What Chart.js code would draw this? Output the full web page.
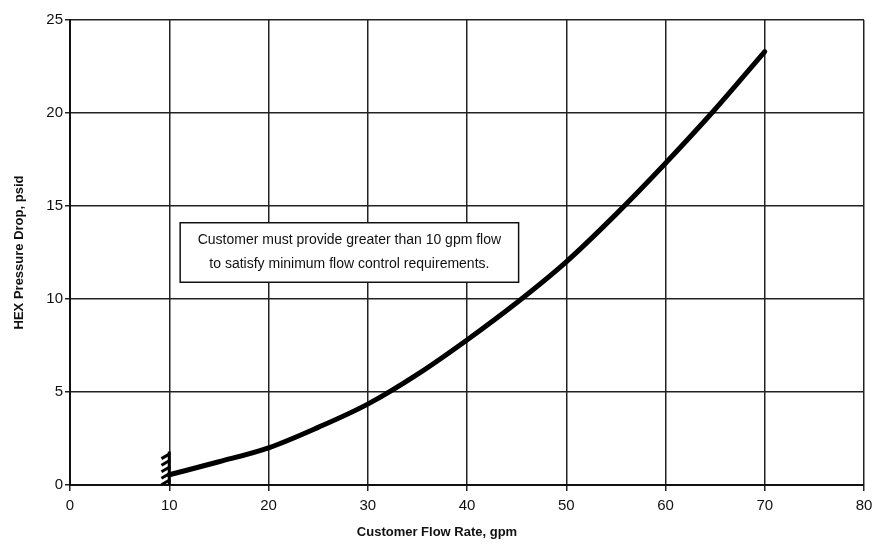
<!DOCTYPE html>
<html>
<head>
<meta charset="utf-8">
<script src="https://cdn.jsdelivr.net/npm/chart.js@4.4.1/dist/chart.umd.min.js"></script>
<style>
  html, body { margin: 0; padding: 0; background: #fff; }
  #wrap { width: 875px; height: 548px; }
</style>
</head>
<body>
<div id="wrap"><canvas id="flowChart"></canvas></div>
<script>
// values
const flowRate = [10, 15, 20, 25, 30, 35, 40, 45, 50, 55, 60, 65, 70];
const pressureDrop = [0.55, 1.25, 2.0, 3.1, 4.35, 5.95, 7.8, 9.8, 12.0, 14.55, 17.3, 20.2, 23.3];

// hatch marks at the 10 gpm minimum
const hatchX = [9.65, 9.65, 9.65, 9.65, 9.65];
const hatchY = [0.15, 0.5, 0.85, 1.2, 1.55];
const minFlowX = [10, 10];
const minFlowY = [0, 1.8];

const xTitle = "Customer Flow Rate, gpm";
const yTitle = "HEX Pressure Drop, psid";
const noteLines = [
    "Customer must provide greater than 10 gpm flow",
    "to satisfy minimum flow control requirements."
];
// note box corners in data units
const noteX = [11.1, 45.2];
const noteY = [14.1, 10.9];

const FONT = "'Liberation Sans', Arial, sans-serif";

const toPoints = (xs, ys) => xs.map((x, i) => ({ x, y: ys[i] }));

const notePlugin = {
    id: "noteBox",
    afterDatasetsDraw(chart) {
        const { ctx, scales } = chart;
        const x1 = scales.x.getPixelForValue(noteX[0]);
        const x2 = scales.x.getPixelForValue(noteX[1]);
        const y1 = scales.y.getPixelForValue(noteY[0]);
        const y2 = scales.y.getPixelForValue(noteY[1]);

        ctx.save();
        ctx.fillStyle = "#fff";
        ctx.fillRect(x1, y1, x2 - x1, y2 - y1);
        ctx.strokeStyle = "#111";
        ctx.lineWidth = 1.5;
        ctx.strokeRect(x1, y1, x2 - x1, y2 - y1);

        ctx.fillStyle = "#111";
        ctx.font = "14px " + FONT;
        ctx.textAlign = "center";
        ctx.textBaseline = "middle";
        const cx = (x1 + x2) / 2;
        const cy = (y1 + y2) / 2;
        ctx.fillText(noteLines[0], cx, cy - 12);
        ctx.fillText(noteLines[1], cx, cy + 12);

        // x axis title, sits left of centre in the original
        ctx.font = "bold 13px " + FONT;
        ctx.fillText(xTitle, 437, 532);
        ctx.restore();
    }
};

new Chart(document.getElementById("flowChart"), {
    type: "scatter",
    data: {
        datasets: [
            {
                data: toPoints(flowRate, pressureDrop),
                showLine: true,
                borderColor: "#000",
                borderWidth: 5,
                pointRadius: 0,
                cubicInterpolationMode: "monotone",
                borderCapStyle: "round"
            },
            {
                data: toPoints(minFlowX, minFlowY),
                showLine: true,
                borderColor: "#000",
                borderWidth: 3,
                pointRadius: 0
            },
            {
                data: toPoints(hatchX, hatchY),
                showLine: false,
                pointStyle: "line",
                rotation: -30,
                pointRadius: 5,
                borderColor: "#000",
                borderWidth: 3
            }
        ]
    },
    options: {
        responsive: true,
        maintainAspectRatio: false,
        animation: false,
        layout: {
            padding: { top: 20, right: 11, left: 0, bottom: 0 }
        },
        plugins: {
            legend: { display: false },
            tooltip: { enabled: false }
        },
        scales: {
            x: {
                type: "linear",
                min: 0,
                max: 80,
                afterFit: scale => {
                    scale.height = 63;
                    scale.paddingLeft = 0;
                    scale.paddingRight = 0;
                },
                ticks: {
                    stepSize: 10,
                    color: "#111",
                    padding: 6,
                    font: { family: FONT, size: 15 }
                },
                grid: {
                    color: "#222",
                    lineWidth: 1.5,
                    tickLength: 6
                },
                border: { color: "#111", width: 2 }
            },
            y: {
                type: "linear",
                min: 0,
                max: 25,
                afterFit: scale => {
                    scale.width = 70;
                    scale.paddingTop = 0;
                    scale.paddingBottom = 0;
                },
                ticks: {
                    stepSize: 5,
                    color: "#111",
                    padding: 2,
                    font: { family: FONT, size: 15 }
                },
                grid: {
                    color: "#222",
                    lineWidth: 1.5,
                    tickLength: 5
                },
                border: { color: "#111", width: 2 },
                title: {
                    display: true,
                    text: yTitle,
                    color: "#111",
                    padding: { top: 12, bottom: 0 },
                    font: { family: FONT, size: 13, weight: "bold" }
                }
            }
        }
    },
    plugins: [notePlugin]
});
</script>
</body>
</html>
